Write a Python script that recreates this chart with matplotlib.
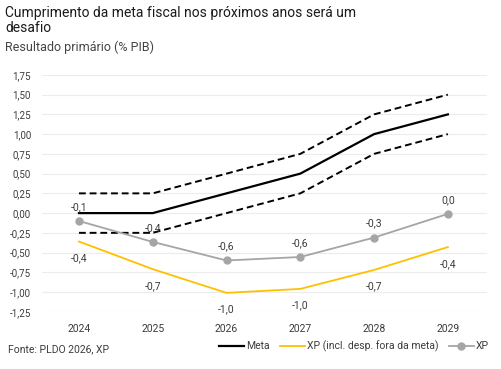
import numpy as np
import matplotlib.pyplot as plt

plt.rcParams['font.family'] = ['Roboto', 'DejaVu Sans']

anos = ['2024', '2025', '2026', '2027', '2028', '2029']
meta = [0.0, 0.0, 0.25, 0.5, 1.0, 1.25]
meta_sup = [0.25, 0.25, 0.5, 0.75, 1.25, 1.5]
meta_inf = [-0.25, -0.25, 0.0, 0.25, 0.75, 1.0]
xp_incl = [-0.36, -0.71, -1.01, -0.96, -0.72, -0.43]
xp_incl_rot = ['-0,4', '-0,7', '-1,0', '-1,0', '-0,7', '-0,4']
xp = [-0.10, -0.365, -0.60, -0.556, -0.31, -0.01]
xp_rot = ['-0,1', '-0,4', '-0,6', '-0,6', '-0,3', '0,0']
yticks = np.arange(-1.25, 1.76, 0.25)

x = np.arange(len(anos))
cinza_txt = '#3c3c3c'

fig = plt.figure(figsize=(5.01, 3.69), dpi=100)
ax = fig.add_axes([0.084, 0.155, 0.888, 0.642])

for v in yticks:
    ax.axhline(v, color='#ececec', lw=0.8, zorder=0)

ax.plot(x, meta_sup, color='black', lw=1.4, ls=(0, (3.5, 2)), zorder=2)
ax.plot(x, meta_inf, color='black', lw=1.4, ls=(0, (3.5, 2)), zorder=2)
l1, = ax.plot(x, meta, color='black', lw=1.6, zorder=3)
l2, = ax.plot(x, xp_incl, color='#FFC000', lw=1.3, zorder=3)
l3, = ax.plot(x, xp, color='#A5A5A5', lw=1.3, marker='o', ms=5, zorder=4)

for i in range(len(anos)):
    ax.annotate(xp_rot[i], (x[i], xp[i]), xytext=(0, 10), textcoords='offset points',
                ha='center', va='center', fontsize=7.5, color=cinza_txt)
    ax.annotate(xp_incl_rot[i], (x[i], xp_incl[i]), xytext=(0, -12), textcoords='offset points',
                ha='center', va='center', fontsize=7.5, color=cinza_txt)

ax.set_xlim(-0.5, 5.53)
ax.set_ylim(-1.25, 1.75)
ax.set_yticks(yticks)
ax.set_yticklabels([f'{v:.2f}'.replace('.', ',') for v in yticks])
ax.set_xticks(x)
ax.set_xticklabels(anos)
ax.tick_params(length=0, labelsize=7, labelcolor=cinza_txt, pad=8)
ax.tick_params(axis='x', labelsize=7.5, pad=9)
for s in ax.spines.values():
    s.set_visible(False)

fig.text(0.01, 0.985, 'Cumprimento da meta fiscal nos próximos anos será um\ndesafio',
         fontsize=10, va='top', ha='left', color='#1a1a1a', linespacing=1.15)
fig.text(0.01, 0.89, 'Resultado primário (% PIB)', fontsize=9, va='top', ha='left',
         color='#444444')
fig.text(0.016, 0.054, 'Fonte: PLDO 2026, XP', fontsize=7.5, va='center', ha='left',
         color=cinza_txt)

leg = fig.legend([l1, l2, l3], ['Meta', 'XP (incl. desp. fora da meta)', 'XP'],
                 loc='center right', bbox_to_anchor=(0.995, 0.062), ncol=3, frameon=False,
                 fontsize=7.5, handlelength=2.4, handletextpad=0.2, columnspacing=1.0)
for t in leg.get_texts():
    t.set_color(cinza_txt)

fig.savefig('out.png', dpi=100)
